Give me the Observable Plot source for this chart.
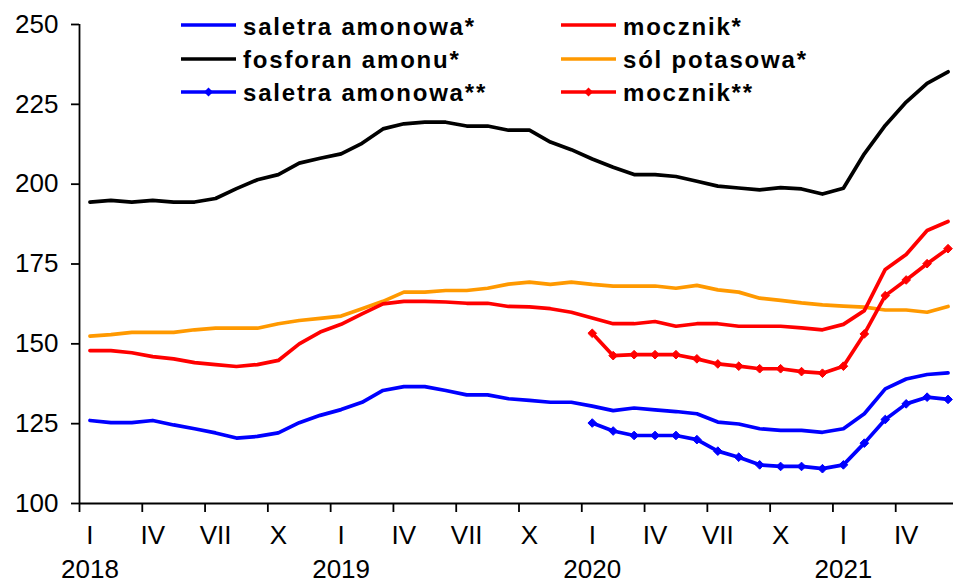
<!DOCTYPE html>
<html>
<head>
<meta charset="utf-8">
<script src="https://cdn.jsdelivr.net/npm/d3@7"></script>
<script src="https://cdn.jsdelivr.net/npm/@observablehq/plot@0.6"></script>
<style>
  html, body { margin: 0; padding: 0; background: #fff; }
  #wrap { position: relative; width: 953px; height: 583px; overflow: hidden; font-family: "Liberation Sans", Arial, sans-serif; }
  .lg { position: absolute; height: 32px; display: flex; align-items: center; white-space: nowrap; }
  .lg span { font-weight: bold; font-size: 24px; letter-spacing: 1.8px; margin-left: 7px; padding-top: 3px; color: #000; }
</style>
</head>
<body>
<div id="wrap"><div id="chart"></div></div>
<script>
// ---- categories ----
const romanMonths = ["I","II","III","IV","V","VI","VII","VIII","IX","X","XI","XII"];
const years = [2018, 2019, 2020, 2021];
const monthCount = 42;               // Jan 2018 .. Jun 2021
const starStarStart = 24;            // ** series start in Jan 2020
const yTicks = [100, 125, 150, 175, 200, 225, 250];

// ---- series values (monthly) ----
const saletraAmonowa = [126.0,125.3,125.3,126.0,124.6,123.4,122.1,120.5,121.0,122.1,125.3,127.6,
  129.4,131.7,135.4,136.6,136.6,135.4,134.0,134.0,132.8,132.3,131.7,131.7,
  130.5,129.1,129.9,129.3,128.8,128.1,125.5,124.9,123.4,122.9,122.9,122.3,
  123.4,128.1,135.9,139.0,140.4,140.9];
const fosforanAmonu = [194.4,194.9,194.4,194.9,194.4,194.4,195.5,198.6,201.4,203.0,206.6,208.1,
  209.5,212.8,217.3,218.9,219.4,219.4,218.2,218.2,216.9,216.9,213.2,210.8,
  207.9,205.3,203.0,203.0,202.4,200.9,199.4,198.8,198.2,198.9,198.5,196.9,
  198.7,209.5,218.4,225.7,231.6,235.2];
const mocznik = [147.9,147.9,147.2,146.0,145.3,144.1,143.5,142.9,143.5,144.8,150.0,153.7,
  156.1,159.4,162.5,163.3,163.3,163.1,162.7,162.7,161.7,161.6,161.0,159.9,
  158.1,156.3,156.3,157.0,155.5,156.3,156.3,155.5,155.5,155.5,155.0,154.4,
  156.1,160.4,173.3,178.0,185.5,188.3];
const solPotasowa = [152.4,152.9,153.6,153.6,153.6,154.4,154.9,154.9,154.9,156.3,157.3,158.0,
  158.7,161.0,163.3,166.2,166.2,166.7,166.7,167.4,168.7,169.3,168.6,169.3,
  168.6,168.1,168.1,168.1,167.4,168.3,166.9,166.2,164.3,163.6,162.8,162.2,
  161.8,161.5,160.6,160.6,159.9,161.7];
const saletraAmonowa2 = [125.2,122.7,121.3,121.3,121.3,120.0,116.4,114.5,112.1,111.6,111.6,110.9,
  112.1,118.9,126.3,131.2,133.3,132.6];
const mocznik2 = [153.3,146.3,146.6,146.6,146.6,145.3,143.7,143.0,142.2,142.2,141.3,140.8,
  143.0,153.1,165.1,170.0,175.1,179.8];

const seriesDefs = [
  {name: "saletra amonowa*",  values: saletraAmonowa,  color: "#0000ff", start: 0, marker: false},
  {name: "fosforan amonu*",   values: fosforanAmonu,   color: "#000000", start: 0, marker: false},
  {name: "saletra amonowa**", values: saletraAmonowa2, color: "#0000ff", start: starStarStart, marker: true},
  {name: "mocznik*",          values: mocznik,         color: "#ff0000", start: 0, marker: false},
  {name: "sól potasowa*",     values: solPotasowa,     color: "#ff9900", start: 0, marker: false},
  {name: "mocznik**",         values: mocznik2,        color: "#ff0000", start: starStarStart, marker: true}
];

const rows = seriesDefs.flatMap(s => s.values.map((v, k) => ({series: s.name, m: s.start + k, v})));

const boundaryTicks = d3.range(0, monthCount + 1, 3).map(i => i - 0.5);
const quarterTicks = d3.range(0, monthCount, 3);
const yearTicks = years.map((y, k) => k * 12);

const font = "'Liberation Sans', Arial, sans-serif";
const drawOrder = ["fosforan amonu*", "sól potasowa*", "mocznik*", "saletra amonowa*", "mocznik**", "saletra amonowa**"];

const lineMarks = drawOrder.flatMap(name => {
  const s = seriesDefs.find(d => d.name === name);
  const data = rows.filter(r => r.series === name);
  const ms = [Plot.line(data, {x: "m", y: "v", stroke: s.color, strokeWidth: 3.7, strokeLinejoin: "round", strokeLinecap: "round"})];
  if (s.marker) ms.push(Plot.dot(data, {x: "m", y: "v", symbol: "diamond2", r: 3.9, fill: s.color, stroke: s.color, strokeWidth: 1}));
  return ms;
});

const chart = Plot.plot({
  width: 953,
  height: 583,
  marginLeft: 79,
  marginRight: 0,
  marginTop: 24,
  marginBottom: 80,
  style: {fontFamily: font, background: "#fff", color: "#000", overflow: "visible"},
  x: {domain: [-0.5, monthCount - 0.5], range: [79, 958]},
  y: {domain: [100, 250]},
  marks: [
    Plot.axisY({ticks: yTicks, tickSize: 8, tickPadding: 13, fontSize: 26, label: null, strokeWidth: 1.8, stroke: "#000", fill: "#000"}),
    Plot.axisX({ticks: boundaryTicks, tickSize: 9, tickFormat: () => "", label: null, strokeWidth: 1.8, stroke: "#000"}),
    Plot.axisX({ticks: quarterTicks, tickSize: 0, tickPadding: 22, fontSize: 26, label: null, fill: "#000",
      tickFormat: i => romanMonths[i % 12]}),
    Plot.axisX({ticks: yearTicks, tickSize: 0, tickPadding: 56, fontSize: 26, label: null, fill: "#000",
      tickFormat: i => String(years[Math.floor(i / 12)])}),
    Plot.ruleX([-0.5], {y1: 100, y2: 250, stroke: "#000", strokeWidth: 1.8}),
    Plot.ruleY([100], {stroke: "#000", strokeWidth: 1.8}),
    ...lineMarks
  ]
});
document.getElementById("chart").appendChild(chart);

// ---- legend (inside plot area, two columns) ----
const legendCols = [181, 561];
const legendRows = [25, 58.5, 91.5];
const wrap = document.getElementById("wrap");
seriesDefs.forEach((s, k) => {
  const col = Math.floor(k / 3), row = k % 3;
  const div = document.createElement("div");
  div.className = "lg";
  div.style.left = legendCols[col] + "px";
  div.style.top = (legendRows[row] - 16) + "px";
  const sw = d3.create("svg").attr("width", 55).attr("height", 32);
  sw.append("line").attr("x1", 0).attr("x2", 55).attr("y1", 16).attr("y2", 16)
    .attr("stroke", s.color).attr("stroke-width", 3.7);
  if (s.marker) {
    sw.append("path").attr("d", "M27.5,11.5L32,16L27.5,20.5L23,16Z").attr("fill", s.color);
  }
  div.appendChild(sw.node());
  const t = document.createElement("span");
  t.textContent = s.name;
  div.appendChild(t);
  wrap.appendChild(div);
});
</script>
</body>
</html>
